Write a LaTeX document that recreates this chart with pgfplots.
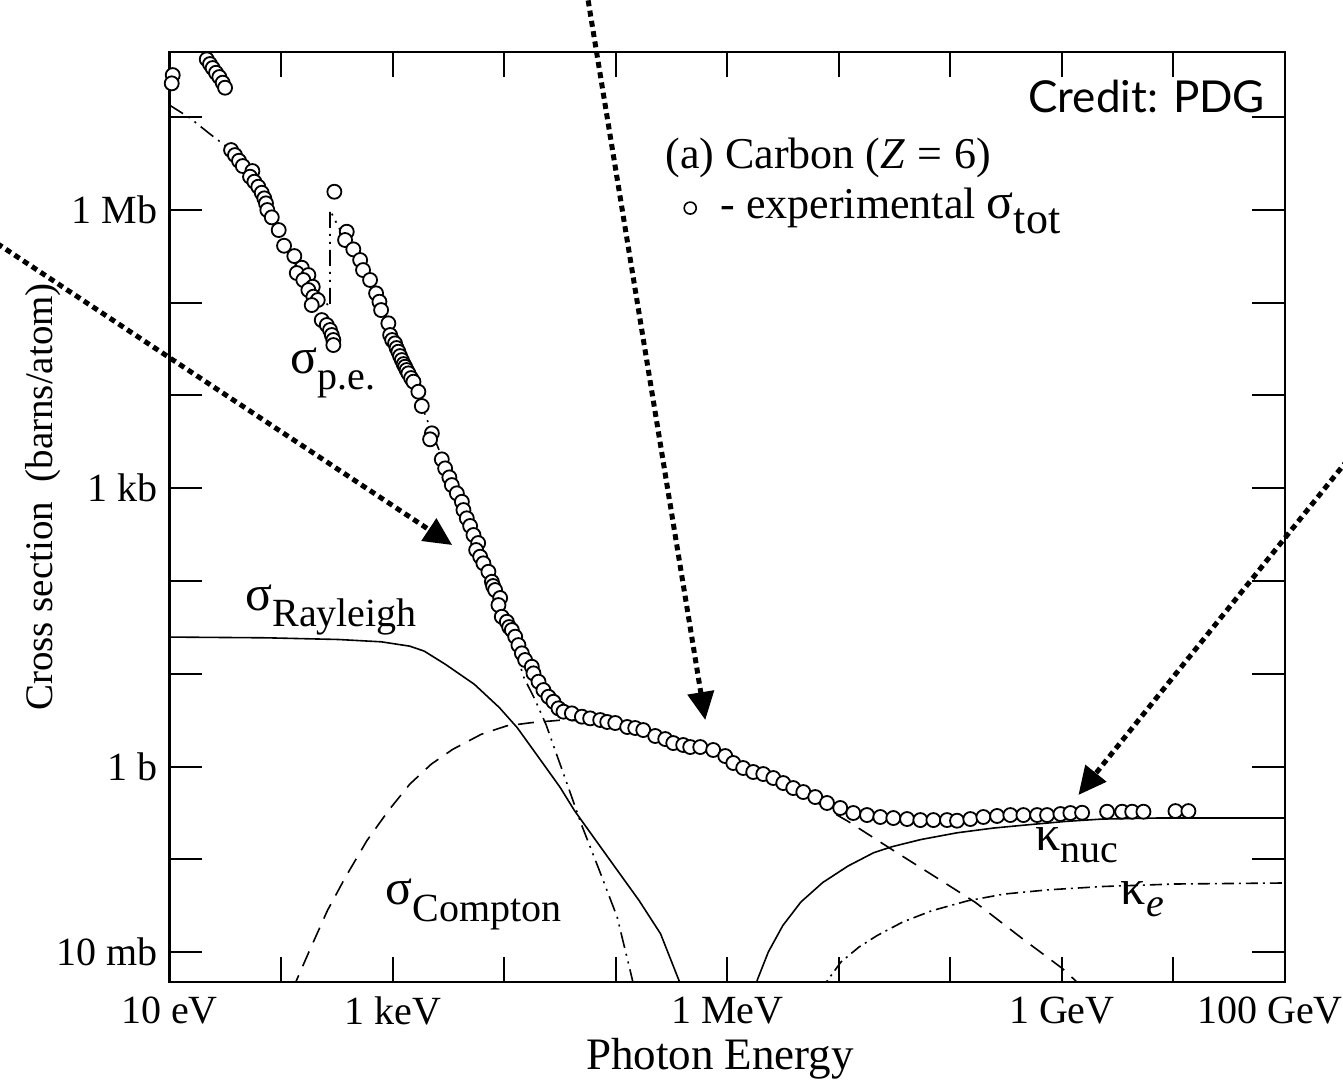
\documentclass[border=0pt]{standalone}
\usepackage{pgfplots}
\pgfplotsset{compat=1.18}
\usepackage{fontspec}
\setmainfont{Liberation Serif}
\newfontfamily\creditfont{Lato}
\usetikzlibrary{arrows.meta}

% Photon cross sections in carbon; both axes are in decades:
% x = log10(E / eV), y = log10(sigma / barn)
\pgfplotstableread{
x y
1.000 1.395
1.871 1.387
2.513 1.369
2.898 1.344
3.154 1.297
3.283 1.244
3.475 1.100
3.733 0.886
3.957 0.635
4.117 0.419
4.310 0.097
4.502 -0.225
4.631 -0.476
4.823 -0.798
5.016 -1.121
5.209 -1.443
5.402 -1.802
5.601 -2.408
}\rayleigh

\pgfplotstableread{
x y
2.101 -2.408
2.143 -2.292
2.256 -1.981
2.416 -1.551
2.577 -1.193
2.770 -0.798
2.962 -0.476
3.154 -0.190
3.347 0.026
3.540 0.186
3.796 0.348
4.022 0.438
4.246 0.473
4.502 0.499
4.861 0.490
5.309 0.330
5.758 0.190
6.206 -0.040
6.654 -0.270
6.953 -0.501
7.083 -0.591
7.474 -0.893
7.898 -1.214
8.224 -1.464
8.648 -1.857
9.006 -2.178
9.211 -2.408
}\compton

\pgfplotstableread{
x y
1.000 7.128
1.184 6.988
1.363 6.816
1.552 6.643
1.722 6.406
1.874 6.051
2.036 5.674
2.197 5.329
2.332 5.081
2.439 4.952
2.439 5.997
2.493 5.867
2.574 5.674
2.709 5.436
2.852 5.092
2.978 4.704
3.112 4.316
3.247 3.928
3.381 3.518
3.516 3.109
3.650 2.710
3.785 2.279
3.919 1.816
4.054 1.417
4.179 0.954
4.278 0.717
4.377 0.447
4.466 0.145
4.565 -0.189
4.691 -0.620
4.852 -1.115
5.013 -1.622
5.148 -2.290
5.166 -2.408
}\photo

\pgfplotstableread{
x y
6.251 -2.408
6.269 -2.301
6.368 -1.999
6.498 -1.714
6.660 -1.460
6.856 -1.250
7.083 -1.072
7.312 -0.929
7.474 -0.865
7.735 -0.787
8.061 -0.714
8.387 -0.663
8.713 -0.626
9.039 -0.591
9.363 -0.566
9.853 -0.555
11.000 -0.555
}\knuc

\pgfplotstableread{
x y
6.837 -2.408
6.921 -2.268
7.019 -2.107
7.181 -1.945
7.344 -1.821
7.572 -1.676
7.833 -1.554
8.159 -1.446
8.484 -1.374
8.875 -1.329
9.363 -1.293
10.016 -1.266
11.000 -1.255
}\kelec

\pgfplotstableread{
x y
1.029 7.451
1.020 7.362
1.334 7.621
1.363 7.570
1.387 7.527
1.417 7.476
1.447 7.430
1.477 7.369
1.498 7.315
1.552 6.643
1.587 6.589
1.623 6.528
1.657 6.471
1.743 6.417
1.722 6.356
1.761 6.302
1.796 6.248
1.827 6.183
1.850 6.123
1.865 6.069
1.877 5.997
1.917 5.918
1.979 5.781
2.027 5.612
2.119 5.501
2.186 5.375
2.141 5.318
2.245 5.296
2.200 5.243
2.284 5.170
2.245 5.135
2.290 5.063
2.329 5.027
2.275 4.973
2.365 4.811
2.410 4.758
2.439 4.704
2.455 4.650
2.469 4.596
2.469 4.542
2.478 6.194
2.589 5.763
2.574 5.674
2.648 5.573
2.709 5.458
2.735 5.350
2.798 5.243
2.852 5.099
2.882 5.009
2.897 4.919
2.962 4.776
2.978 4.650
2.996 4.596
3.022 4.560
3.036 4.510
3.052 4.470
3.067 4.423
3.083 4.380
3.099 4.337
3.112 4.308
3.126 4.273
3.142 4.237
3.166 4.186
3.187 4.147
3.231 4.039
3.262 3.885
3.352 3.591
3.336 3.526
3.441 3.310
3.471 3.213
3.509 3.116
3.531 3.033
3.576 2.944
3.621 2.853
3.635 2.764
3.665 2.675
3.695 2.592
3.725 2.495
3.767 2.408
3.749 2.333
3.785 2.261
3.814 2.190
3.859 2.099
3.890 1.991
3.901 1.945
3.919 1.902
3.964 1.816
3.949 1.740
3.979 1.614
4.024 1.560
4.045 1.503
4.069 1.471
4.099 1.399
4.128 1.309
4.159 1.220
4.188 1.148
4.248 1.075
4.263 1.004
4.308 0.914
4.352 0.824
4.397 0.752
4.442 0.698
4.487 0.627
4.532 0.591
4.607 0.573
4.697 0.537
4.771 0.519
4.861 0.501
4.924 0.480
4.996 0.469
5.103 0.426
5.175 0.415
5.247 0.393
5.354 0.329
5.444 0.296
5.516 0.253
5.605 0.232
5.668 0.210
5.758 0.210
5.874 0.178
5.982 0.113
6.054 0.038
6.143 -0.016
6.233 -0.059
6.323 -0.081
6.413 -0.124
6.502 -0.178
6.592 -0.232
6.682 -0.275
6.789 -0.329
6.894 -0.393
7.013 -0.447
7.130 -0.501
7.253 -0.523
7.372 -0.544
7.489 -0.555
7.612 -0.566
7.731 -0.577
7.848 -0.577
7.970 -0.577
8.060 -0.584
8.179 -0.566
8.296 -0.544
8.419 -0.533
8.538 -0.523
8.655 -0.523
8.778 -0.523
8.867 -0.523
8.987 -0.512
9.076 -0.501
9.181 -0.498
9.405 -0.487
9.540 -0.487
9.630 -0.487
9.731 -0.487
10.018 -0.480
10.134 -0.480
}\expdata

% Greek letter of a curve name, set a little larger than the text
\newcommand\gk[1]{{\fontsize{25}{26}\selectfont #1}}

\begin{document}
\begin{tikzpicture}
\begin{axis}[
  at={(0,0)}, anchor=south west,
  scale only axis, width=557.75pt, height=465pt,
  xmin=1, xmax=11, ymin=-2.322, ymax=7.70,
  xtick={1,2,...,11},
  xticklabels={10 eV,,1 keV,,,1 MeV,,,1 GeV,,100 GeV\hspace*{15pt}},
  ytick={-2,-1,...,7},
  yticklabels={10 mb,,1 b,,,1 kb,,,1 Mb,},
  tick align=inside,
  xtick style={line width=1pt, black, /pgfplots/major tick length=12.5pt},
  ytick style={line width=1pt, black, /pgfplots/major tick length=16.5pt},
  axis line style={line width=1.2pt},
  ticklabel style={font=\fontsize{20}{24}\selectfont},
  xticklabel style={yshift=-4pt},
  yticklabel style={xshift=-2.5pt},
  xlabel={Photon Energy},
  ylabel={Cross section\ \ (barns/atom)},
  every axis x label/.style={at={(axis description cs:0.4935,0)}, anchor=base,
    yshift=-44pt, font=\fontsize{22.5}{26}\selectfont},
  every axis y label/.style={at={(axis description cs:-0.1053,0.5215)}, rotate=90,
    anchor=base, font=\fontsize{19.5}{24}\selectfont},
]
\addplot[line width=0.8pt] table {\rayleigh};
\addplot[line width=0.8pt, dash pattern=on 8pt off 5pt] table {\compton};
\addplot[line width=0.8pt, dash pattern=on 8pt off 3pt on 1pt off 3pt on 1pt off 3pt] table {\photo};
\addplot[line width=0.8pt] table {\knuc};
\addplot[line width=0.8pt, dash pattern=on 6pt off 2.5pt on 1pt off 2.5pt] table {\kelec};
\addplot[only marks, mark=*, mark size=3.5pt,
  mark options={fill=white, draw=black, line width=0.9pt}] table {\expdata};

% curve names
\node[anchor=base west, inner sep=0pt, font=\fontsize{20}{24}\selectfont]
  at (axis cs:2.081,4.240) {\gk{σ}\raisebox{-0.42em}{p.e.}};
\node[anchor=base west, inner sep=0pt, font=\fontsize{20}{24}\selectfont]
  at (axis cs:1.677,1.686) {\gk{σ}\raisebox{-0.42em}{Rayleigh}};
\node[anchor=base west, inner sep=0pt, font=\fontsize{20}{24}\selectfont]
  at (axis cs:2.933,-1.492) {\gk{σ}\raisebox{-0.42em}{Compton}};
\node[anchor=base west, inner sep=0pt, font=\fontsize{20}{24}\selectfont]
  at (axis cs:8.762,-0.900) {\gk{κ}\raisebox{-0.3em}{nuc}};
\node[anchor=base west, inner sep=0pt, font=\fontsize{20}{24}\selectfont]
  at (axis cs:9.525,-1.492) {\gk{κ}\raisebox{-0.3em}{\itshape e}};

% key
\node[anchor=base west, inner sep=0pt, font=\fontsize{22}{26}\selectfont]
  at (axis cs:5.444,6.449) {(a) Carbon (\textit{Z}\;=\;6)};
\node[anchor=base west, inner sep=0pt, font=\fontsize{22}{26}\selectfont]
  at (axis cs:5.937,5.911) {- experimental \gk{σ}\raisebox{-0.35em}{tot}};
\node[anchor=base east, inner sep=0pt, font=\creditfont\fontsize{22}{26}\selectfont]
  at (axis cs:10.825,7.053) {Credit: PDG};
\coordinate (keymark) at (axis cs:5.668,6.018);

% arrow end points
\coordinate (A1s) at (axis cs:-0.700,5.760);
\coordinate (A1t) at (axis cs:3.534,2.387);
\coordinate (A2s) at (axis cs:4.738,8.367);
\coordinate (A2t) at (axis cs:5.803,0.501);
\coordinate (A3s) at (axis cs:11.677,3.477);
\coordinate (A3t) at (axis cs:9.148,-0.307);
\end{axis}

% open circle of the key
\draw[line width=0.8pt, fill=white] (keymark) circle (3pt);

\begin{scope}[line width=2.5pt, dash pattern=on 3pt off 2.2pt,
  -{Triangle[length=14pt,width=13pt]}]
  \draw (A1s) -- (A1t);
  \draw (A2s) -- (A2t);
  \draw (A3s) -- (A3t);
\end{scope}

\pgfresetboundingbox
\useasboundingbox (-84.75pt,-49pt) rectangle (586.75pt,491pt);
\end{tikzpicture}
\end{document}
